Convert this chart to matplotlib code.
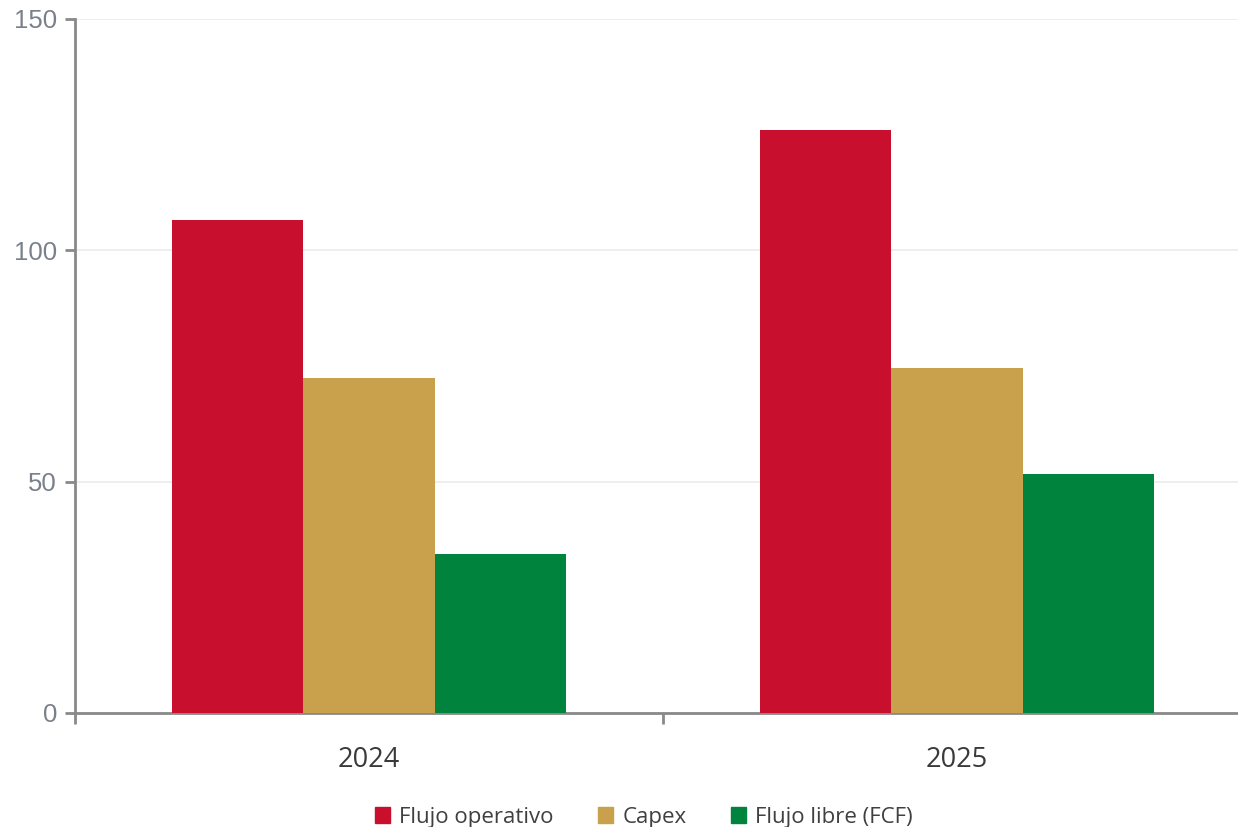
import numpy as np
import matplotlib.pyplot as plt
from matplotlib.patches import Patch

# --- data ---
years = ["2024", "2025"]
series = ["Flujo operativo", "Capex", "Flujo libre (FCF)"]
flujo_operativo = [106.5, 126.0]
capex = [72.4, 74.6]
flujo_libre = [34.4, 51.7]
colors = ["#C8102E", "#C9A14C", "#00843D"]

# --- plot ---
fig = plt.figure(figsize=(12.38, 8.27), dpi=100)
ax = fig.add_axes([75 / 1238, 1 - 713 / 827, 1 - 75 / 1238, (713 - 19) / 827])

x = np.arange(len(years))
w = 0.223
for i, (vals, c) in enumerate(zip([flujo_operativo, capex, flujo_libre], colors)):
    ax.bar(x + (i - 1) * w, vals, width=w, color=c, zorder=3)

ax.set_yticks([0, 50, 100, 150])
ax.yaxis.grid(True, color="#EBEBEB", linewidth=1.2, zorder=0)

for s in ["top", "right"]:
    ax.spines[s].set_visible(False)
for s in ["left", "bottom"]:
    ax.spines[s].set_color("#898989")
    ax.spines[s].set_linewidth(2)

ax.tick_params(axis="y", colors="#898989", width=2, length=7, pad=6,
               labelcolor="#7A808A", labelsize=18.5)
for lab in ax.get_yticklabels():
    lab.set_fontfamily("Liberation Sans")

ax.set_xticks(x)
ax.set_xticklabels(years, fontfamily="Open Sans", fontsize=19.5, color="#3A3A3A")
ax.tick_params(axis="x", length=0, pad=24)
ax.set_xticks([-0.5, 0.5], minor=True)
ax.tick_params(axis="x", which="minor", length=8, width=2, color="#898989")

# limits after ticks so they are not expanded
ax.set_xlim(-0.5, 1.478)
ax.set_ylim(0, 150)

handles = [Patch(color=c, label=s) for c, s in zip(colors, series)]
fig.legend(handles=handles, loc="lower center", bbox_to_anchor=(0.52, -0.025), ncol=3,
           frameon=False, prop={"family": "Open Sans", "size": 16},
           handlelength=0.7, handleheight=0.7, handletextpad=0.4, columnspacing=2.0,
           labelcolor="#404040")

plt.savefig("out.png", dpi=100)
